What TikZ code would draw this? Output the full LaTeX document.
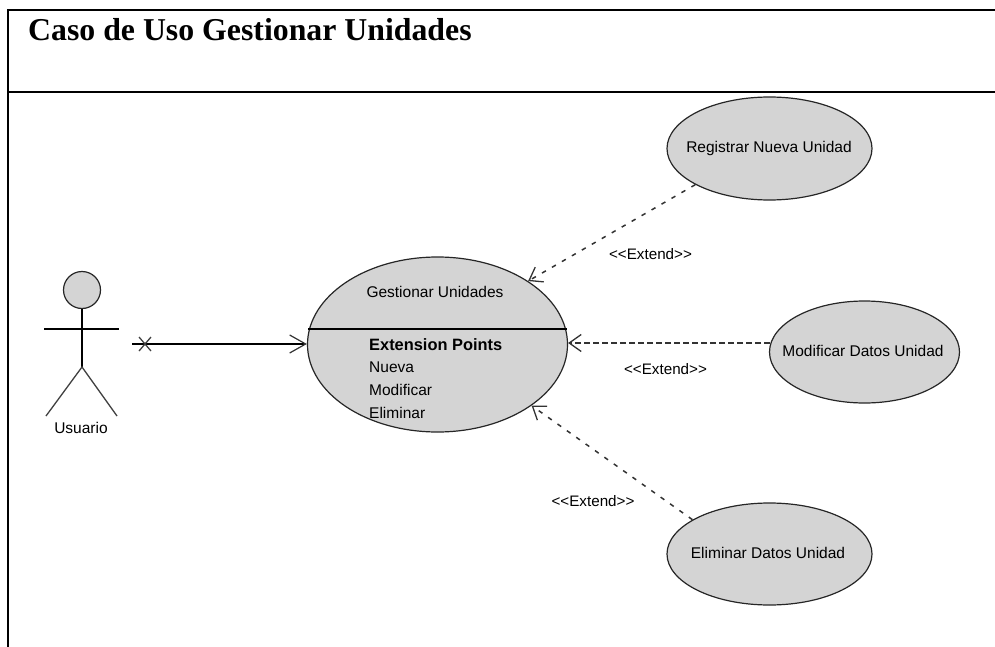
\documentclass[tikz,border=0pt]{standalone}
\usepackage{fontspec}
\setmainfont{Liberation Serif}
\newfontfamily\umlfont{Liberation Sans}
\usetikzlibrary{arrows.meta,shapes.geometric}
\definecolor{casefill}{HTML}{D4D4D4}
\tikzset{
 x=1pt,y=-1pt,
 frameline/.style={line width=2pt,black},
 usecase/.style={ellipse,draw=black!85,line width=1.2pt,fill=casefill,inner sep=0pt},
 umltext/.style={font=\umlfont\fontsize{15.5}{17}\selectfont,text=black,inner sep=0pt},
 boldtext/.style={font=\umlfont\bfseries\fontsize{16.4}{18}\selectfont,text=black,inner sep=0pt},
 extendtext/.style={font=\umlfont\fontsize{15.2}{17}\selectfont,text=black,inner sep=0pt},
 extendlink/.style={line width=1.5pt,black!80,-{Straight Barb[length=12pt,width=17pt,line width=1.3pt]}},
 slantdash/.style={dash pattern=on 4.5pt off 7pt},
 straightdash/.style={dash pattern=on 6pt off 3pt},
 assoc/.style={line width=1.7pt,black,-{Straight Barb[length=16pt,width=18pt,line width=1.2pt,black!80]}},
 limb/.style={line width=1.3pt,black!75},
 body/.style={line width=2.1pt,black}
}
\begin{document}
\begin{tikzpicture}
\useasboundingbox (0,0) rectangle (995,647);
% table frame
\coordinate (tl) at (8,10);
\coordinate (tr) at (995,10);
\coordinate (ml) at (8,92.5);
\coordinate (mr) at (995,92.5);
\coordinate (bl) at (8,647);
\draw[frameline] (tr) -- (tl) -- (bl);
\draw[frameline] (ml) -- (mr);
\node[anchor=base west,inner sep=0pt,font=\fontsize{31.8}{35}\selectfont\bfseries] (title) at (28,41) {Caso de Uso Gestionar Unidades};
% actor
\node[circle,draw=black!85,line width=1.2pt,fill=casefill,minimum size=37pt,inner sep=0pt] (head) at (82,290) {};
\coordinate (hip) at (82,367);
\coordinate (armL) at (44,329);
\coordinate (armR) at (119,329);
\coordinate (footL) at (46,416);
\coordinate (footR) at (117,416);
\draw[body] (head.south) -- (hip);
\draw[body] (armL) -- (armR);
\draw[limb] (footL) -- (hip) -- (footR);
\node[umltext] (actorlabel) at (81,428) {Usuario};
% use cases
\node[usecase,minimum width=260pt,minimum height=175pt] (main) at (437.5,344.5) {};
\coordinate (divL) at (308,329);
\coordinate (divR) at (567,329);
\draw[line width=1.7pt,black] (divL) -- (divR);
\node[umltext] (maintitle) at (435,292) {Gestionar Unidades};
\node[boldtext,anchor=base west] (ext) at (369,350.5) {Extension Points};
\node[umltext,anchor=base west] (n1) at (369,372.5) {Nueva};
\node[umltext,anchor=base west] (n2) at (369,395) {Modificar};
\node[umltext,anchor=base west] (n3) at (369,418) {Eliminar};
\node[usecase,minimum width=205pt,minimum height=103pt] (reg) at (769.5,148.5) {};
\node[umltext] (regt) at (769,148) {Registrar Nueva Unidad};
\node[usecase,minimum width=190pt,minimum height=102pt] (mod) at (864.5,352) {};
\node[umltext] (modt) at (863,351) {Modificar Datos Unidad};
\node[usecase,minimum width=205pt,minimum height=102pt] (eli) at (769.5,554) {};
\node[umltext] (elit) at (768,553) {Eliminar Datos Unidad};
% connectors
\coordinate (assocstart) at (132,344);
\draw[assoc] (assocstart) -- (main.west |- assocstart);
\coordinate (xa) at (139,337);
\coordinate (xb) at (151,351);
\coordinate (xc) at (151,337);
\coordinate (xd) at (139,351);
\draw[line width=1.3pt,black!75] (xa) -- (xb) (xc) -- (xd);
\draw[extendlink,slantdash] (reg.206) -- (main.35.8);
\coordinate (modstart) at (770,343);
\draw[extendlink,straightdash] (modstart) -- (main.east |- modstart);
\draw[extendlink,slantdash] (eli.156.8) -- (main.-33.4);
\node[extendtext] (e1) at (650.5,254) {<<Extend>>};
\node[extendtext] (e2) at (665.5,369) {<<Extend>>};
\node[extendtext] (e3) at (593,501) {<<Extend>>};
\end{tikzpicture}
\end{document}
